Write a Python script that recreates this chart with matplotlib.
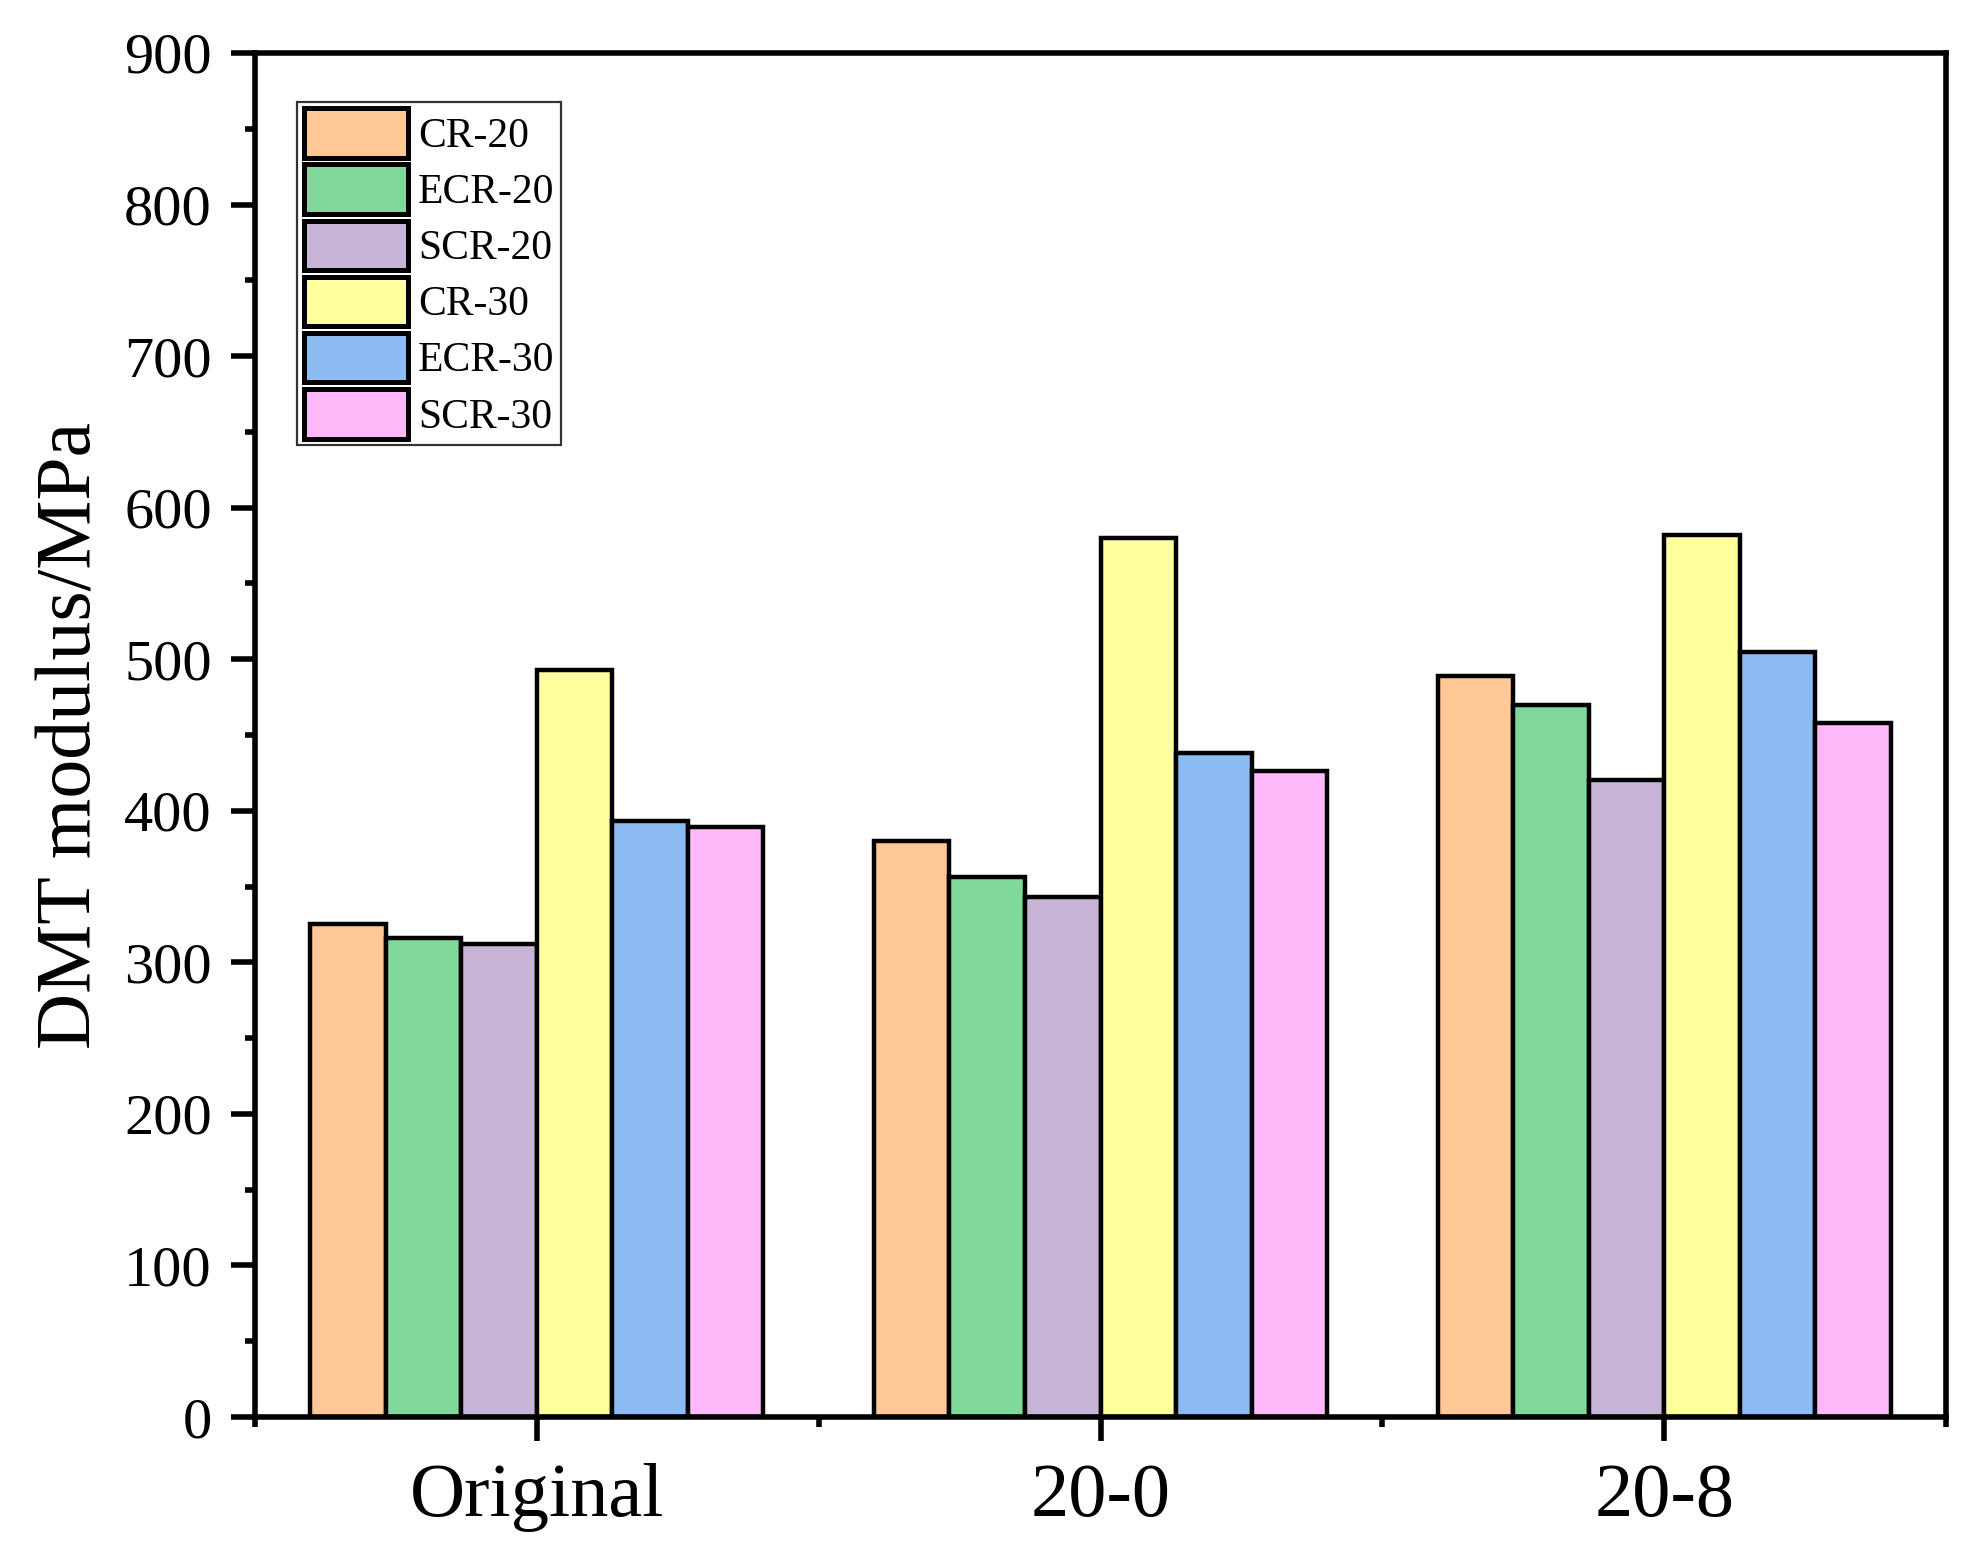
import numpy as np
import matplotlib.pyplot as plt
from matplotlib.ticker import MultipleLocator

# data
groups = ['Original', '20-0', '20-8']
series = ['CR-20', 'ECR-20', 'SCR-20', 'CR-30', 'ECR-30', 'SCR-30']
cr20 = [325, 380, 489]
ecr20 = [316, 356, 470]
scr20 = [312, 343, 420]
cr30 = [493, 580, 582]
ecr30 = [393, 438, 505]
scr30 = [389, 426, 458]
values = [cr20, ecr20, scr20, cr30, ecr30, scr30]
colors = ['#FFC896', '#80D89A', '#C8B4D6', '#FFFF9E', '#8DBCF5', '#FFB9FA']

plt.rcParams['font.family'] = ['Liberation Serif', 'DejaVu Serif']

fig = plt.figure(figsize=(19.71, 15.57), dpi=100)
ax = fig.add_axes([0.1294, 0.0899, 0.8579, 0.8761])

x = np.arange(len(groups))
width = 0.134
for i, (name, vals, c) in enumerate(zip(series, values, colors)):
    ax.bar(x + (i - 2.5) * width, vals, width, color=c, edgecolor='black',
           linewidth=3.2, label=name, zorder=2)

ax.set_xlim(-0.5, 2.5)
ax.set_ylim(0, 900)
ax.set_xticks(x)
ax.set_xticklabels(groups)
ax.xaxis.set_minor_locator(plt.FixedLocator([-0.5, 0.5, 1.5, 2.5]))
ax.yaxis.set_major_locator(MultipleLocator(100))
ax.yaxis.set_minor_locator(MultipleLocator(50))

for s in ax.spines.values():
    s.set_linewidth(4.0)
ax.tick_params(which='major', direction='out', length=17, width=4.0)
ax.tick_params(which='minor', direction='out', length=7.5, width=4.0)
ax.tick_params(axis='y', which='major', labelsize=42, pad=14)
ax.tick_params(axis='x', which='major', labelsize=55, pad=16)
ax.tick_params(top=False, right=False, which='both')

ax.set_ylabel('DMT modulus/MPa', fontsize=56, labelpad=12)

leg = ax.legend(loc='upper left', bbox_to_anchor=(0.025, 0.964), fontsize=30,
                frameon=True, fancybox=False, edgecolor='black',
                handlelength=2.5, handleheight=1.45, labelspacing=0.16,
                handletextpad=0.25, borderpad=0.15, borderaxespad=0)
leg.get_frame().set_linewidth(1.6)
for h in leg.legend_handles:
    h.set_linewidth(3.6)

fig.savefig('out.png', dpi=100)
